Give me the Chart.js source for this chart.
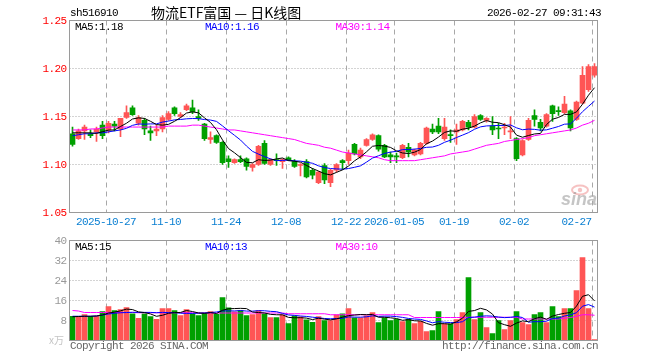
<!DOCTYPE html>
<html><head><meta charset="utf-8">
<script src="https://cdn.jsdelivr.net/npm/chart.js@4/dist/chart.umd.min.js"></script>
<style>html,body{margin:0;padding:0;background:#fff;}#wrap{position:relative;width:660px;height:360px;background:#fff;}</style>
</head><body><div id="wrap"><canvas id="c" width="660" height="360"></canvas></div>
<script>
const dates = ['2025-10-17','2025-10-20','2025-10-21','2025-10-22','2025-10-23','2025-10-24','2025-10-27','2025-10-28','2025-10-29','2025-10-30',
'2025-10-31','2025-11-03','2025-11-04','2025-11-05','2025-11-06','2025-11-07','2025-11-10','2025-11-11','2025-11-12','2025-11-13',
'2025-11-14','2025-11-17','2025-11-18','2025-11-19','2025-11-20','2025-11-21','2025-11-24','2025-11-25','2025-11-26','2025-11-27',
'2025-11-28','2025-12-01','2025-12-02','2025-12-03','2025-12-04','2025-12-05','2025-12-08','2025-12-09','2025-12-10','2025-12-11',
'2025-12-12','2025-12-15','2025-12-16','2025-12-17','2025-12-18','2025-12-19','2025-12-22','2025-12-23','2025-12-24','2025-12-25',
'2025-12-26','2025-12-29','2025-12-30','2025-12-31','2026-01-05','2026-01-06','2026-01-07','2026-01-08','2026-01-09','2026-01-12',
'2026-01-13','2026-01-14','2026-01-15','2026-01-16','2026-01-19','2026-01-20','2026-01-21','2026-01-22','2026-01-23','2026-01-26',
'2026-01-27','2026-01-28','2026-01-29','2026-01-30','2026-02-02','2026-02-03','2026-02-04','2026-02-05','2026-02-06','2026-02-09',
'2026-02-10','2026-02-11','2026-02-12','2026-02-13','2026-02-24','2026-02-25','2026-02-26','2026-02-27'];

const openP = [1.132,1.127,1.135,1.132,1.134,1.141,1.136,1.142,1.137,1.149,
1.159,1.143,1.146,1.135,1.135,1.137,1.147,1.159,1.150,1.157,
1.159,1.150,1.142,1.126,1.130,1.123,1.106,1.102,1.105,1.106,
1.097,1.100,1.122,1.100,1.105,1.103,1.107,1.103,1.099,1.103,
1.094,1.081,1.099,1.081,1.094,1.104,1.104,1.121,1.108,1.120,
1.126,1.130,1.120,1.110,1.109,1.107,1.118,1.110,1.111,1.122,
1.137,1.140,1.127,1.131,1.134,1.136,1.144,1.139,1.151,1.146,
1.140,1.138,1.138,1.134,1.127,1.110,1.126,1.151,1.144,1.140,
1.161,1.156,1.154,1.156,1.147,1.164,1.178,1.193];
const highP = [1.139,1.137,1.141,1.136,1.139,1.145,1.145,1.145,1.148,1.161,
1.161,1.151,1.148,1.140,1.141,1.151,1.155,1.160,1.154,1.163,
1.167,1.157,1.143,1.134,1.131,1.124,1.109,1.106,1.109,1.107,
1.101,1.120,1.125,1.106,1.111,1.106,1.108,1.105,1.101,1.105,
1.096,1.093,1.101,1.095,1.101,1.105,1.115,1.122,1.117,1.127,
1.132,1.131,1.121,1.113,1.112,1.121,1.122,1.116,1.123,1.139,
1.142,1.148,1.148,1.136,1.142,1.146,1.146,1.152,1.152,1.149,
1.150,1.143,1.143,1.150,1.128,1.126,1.148,1.157,1.147,1.153,
1.162,1.160,1.171,1.157,1.166,1.202,1.204,1.205];
const lowP = [1.119,1.126,1.126,1.128,1.124,1.127,1.133,1.135,1.129,1.148,
1.151,1.141,1.131,1.125,1.130,1.134,1.146,1.151,1.149,1.156,
1.153,1.146,1.125,1.122,1.122,1.100,1.097,1.101,1.102,1.094,
1.093,1.099,1.100,1.099,1.099,1.096,1.104,1.097,1.088,1.086,
1.085,1.080,1.080,1.077,1.092,1.095,1.100,1.110,1.106,1.119,
1.125,1.114,1.107,1.102,1.102,1.106,1.108,1.109,1.110,1.121,
1.132,1.132,1.125,1.123,1.121,1.135,1.136,1.138,1.146,1.144,
1.131,1.127,1.131,1.127,1.104,1.109,1.125,1.140,1.135,1.139,
1.145,1.151,1.153,1.135,1.146,1.163,1.176,1.191];
const closeP = [1.121,1.135,1.139,1.130,1.137,1.130,1.143,1.140,1.148,1.154,
1.152,1.149,1.137,1.133,1.137,1.149,1.153,1.153,1.152,1.161,
1.155,1.148,1.127,1.128,1.123,1.102,1.103,1.105,1.103,1.098,
1.100,1.119,1.101,1.105,1.104,1.105,1.105,1.098,1.100,1.087,
1.089,1.092,1.084,1.094,1.100,1.102,1.112,1.111,1.115,1.126,
1.131,1.116,1.108,1.108,1.108,1.120,1.113,1.115,1.122,1.138,
1.134,1.134,1.139,1.130,1.136,1.145,1.139,1.150,1.147,1.148,
1.136,1.137,1.139,1.135,1.106,1.125,1.146,1.147,1.138,1.152,
1.153,1.155,1.163,1.138,1.165,1.193,1.202,1.202];
const volume = [9.7,9.6,10.4,9.7,9.7,11.6,13.6,12,12.4,13.2,
10.7,8.9,10.7,9.6,8.5,12.8,12.8,12,10,12.4,
10.7,10,11.1,11.6,10.5,17.2,13.1,11.5,12,10,
10.4,12,10.7,9.2,9.2,10.3,6.8,9.9,9.5,8.3,
7.3,9.6,8,8,10.3,10.7,12.8,9.1,9.1,9.9,
11.2,7.2,9.1,8,8.5,7.6,8.5,6.8,7.7,3.6,
4,11.6,6.7,6.7,8.4,11.2,25.2,8.4,11.2,5.2,
2.8,8,4.4,8,11.6,7.2,6.4,10.4,11.2,7.2,
13.6,9.6,12.8,12.8,20,33.2,12.8,0.4];

const ma5 = [1.133,1.133,1.133,1.133,1.1324,1.1342,1.1358,1.136,1.1396,1.143,
1.1474,1.1486,1.148,1.145,1.1416,1.141,1.1418,1.145,1.1488,1.1536,
1.1548,1.1538,1.1486,1.1438,1.1362,1.1256,1.1166,1.1122,1.1072,1.1022,
1.1018,1.105,1.1042,1.1046,1.1058,1.1068,1.104,1.1034,1.1024,1.099,
1.0958,1.0932,1.0904,1.0892,1.0918,1.0944,1.0984,1.1038,1.108,1.1132,
1.119,1.1198,1.1192,1.1178,1.1142,1.112,1.1114,1.1128,1.1156,1.1216,
1.1244,1.1286,1.1334,1.135,1.1346,1.1368,1.1378,1.14,1.1434,1.1458,
1.144,1.1436,1.1414,1.139,1.1306,1.1284,1.1302,1.1318,1.1324,1.1416,
1.1472,1.149,1.1522,1.1522,1.1548,1.1628,1.1722,1.18];
const ma10 = [1.130,1.131,1.132,1.132,1.133,1.133,1.134,1.135,1.136,1.1377,
1.1408,1.1422,1.142,1.1423,1.1423,1.1442,1.1452,1.1465,1.1469,1.1476,
1.1479,1.1478,1.1468,1.1463,1.1449,1.1402,1.1352,1.1304,1.1255,1.1192,
1.1137,1.1108,1.1082,1.1059,1.104,1.1043,1.1045,1.1038,1.1035,1.1024,
1.1013,1.0986,1.0969,1.0958,1.0954,1.0951,1.0958,1.0971,1.0986,1.1025,
1.1067,1.1091,1.1115,1.1129,1.1137,1.1155,1.1156,1.116,1.1167,1.1179,
1.1182,1.12,1.1231,1.1253,1.1281,1.1306,1.1332,1.1367,1.1392,1.1402,
1.1404,1.1407,1.1407,1.1412,1.1382,1.1362,1.1369,1.1366,1.1357,1.1361,
1.1378,1.1396,1.142,1.1423,1.1482,1.155,1.1606,1.1661];
const ma30 = [1.136,1.136,1.136,1.137,1.137,1.138,1.139,1.139,1.139,1.139,
1.139,1.139,1.139,1.139,1.139,1.139,1.140,1.140,1.140,1.140,
1.141,1.141,1.140,1.139,1.138,1.137,1.136,1.136,1.135,1.134,
1.133,1.132,1.131,1.130,1.129,1.128,1.127,1.126,1.124,1.122,
1.121,1.120,1.118,1.117,1.115,1.113,1.112,1.111,1.110,1.109,
1.108,1.107,1.105,1.104,1.104,1.104,1.104,1.104,1.105,1.106,
1.107,1.108,1.109,1.111,1.112,1.113,1.114,1.116,1.118,1.120,
1.121,1.122,1.124,1.125,1.126,1.127,1.128,1.130,1.131,1.132,
1.133,1.134,1.135,1.136,1.138,1.141,1.143,1.146];
const volMa5 = [9.5,9.6,9.7,9.7,9.82,10.2,11.0,11.32,11.86,12.56,
12.38,11.44,11.18,10.62,9.68,10.1,10.88,11.14,11.22,12.0,
11.58,11.02,10.84,11.16,10.78,12.08,12.7,12.78,12.86,12.76,
11.4,11.18,11.02,10.46,10.3,10.28,9.24,9.08,9.14,8.96,
8.36,8.92,8.54,8.24,8.64,9.32,9.96,10.18,10.4,10.32,
10.42,9.3,9.3,9.08,8.8,8.08,8.34,7.88,7.82,6.84,
6.12,6.74,6.72,6.52,7.48,8.92,11.64,11.98,12.88,12.24,
10.56,7.12,6.32,5.68,6.96,7.84,7.52,8.72,9.36,8.48,
9.76,10.4,10.88,11.2,13.76,17.68,18.32,15.84];
const volMa10 = [9.7,9.7,9.7,9.7,9.8,10.2,10.6,10.9,11.1,11.19,
11.29,11.22,11.25,11.24,11.12,11.24,11.16,11.16,10.92,10.84,
10.84,10.95,10.99,11.19,11.39,11.83,11.86,11.81,12.01,11.77,
11.74,11.94,11.9,11.66,11.53,10.84,10.21,10.05,9.8,9.63,
9.32,9.08,8.81,8.69,8.8,8.84,9.44,9.36,9.32,9.48,
9.87,9.63,9.74,9.74,9.56,9.25,8.82,8.59,8.45,7.82,
7.1,7.54,7.3,7.17,7.16,7.52,9.19,9.35,9.7,9.86,
9.74,9.38,9.15,9.28,9.6,9.2,7.32,7.52,7.52,7.72,
8.8,8.96,9.8,10.28,11.12,13.72,14.36,13.36];
const volMa30 = [12.0,11.8,11.2,11.2,11.2,11.2,11.2,11.2,11.2,11.2,
11.2,11.1,11.1,11.1,11.1,11.1,11.1,11.1,11.1,11.1,
11.1,11.0,11.0,11.0,11.0,11.0,11.0,11.0,11.0,11.0,
11.0,11.0,11.0,11.0,11.0,11.0,10.7,10.7,10.7,10.7,
10.7,10.7,10.7,10.3,10.3,10.3,10.3,10.3,10.3,10.3,
10.3,10.3,10.3,10.3,10.3,10.3,10.3,9.2,9.2,9.2,
9.2,9.2,9.2,9.2,9.2,9.2,9.3,9.3,9.3,9.3,
9.3,9.3,9.3,9.3,9.3,8.6,8.6,8.6,8.6,8.6,
8.6,8.6,8.9,9.2,9.7,10.3,10.3,10.1];

const priceTicks = [1.25, 1.20, 1.15, 1.10, 1.05];
const volTicks = [40, 32, 24, 16, 8];
const tickDates = ['2025-10-27','2025-11-10','2025-11-24','2025-12-08','2025-12-22','2026-01-05','2026-01-19','2026-02-02','2026-02-27'];
const tickLabels = ['2025-10-27','11-10','11-24','12-08','12-22','2026-01-05','01-19','02-02','02-27'];
const priceLegend = ['MA5:1.18','MA10:1.16','MA30:1.14'];
const volLegend = ['MA5:15','MA10:13','MA30:10'];
const headerCode = 'sh516910';
const headerTitle = '物流ETF富国 — 日K线图';
const headerTime = '2026-02-27 09:31:43';

const UP = '#ff5555', DN = '#00a000';
const barColors = dates.map((d, i) => closeP[i] >= openP[i] ? UP : DN);
const MONO = "11px 'Liberation Mono'";

const deco = {
  id: 'deco',
  beforeDatasetsDraw(chart) {
    const c = chart.ctx, xs = chart.scales.x, ys = chart.scales.y, yv = chart.scales.yv;
    const L = chart.chartArea.left, R = chart.chartArea.right;
    const pTop = ys.getPixelForValue(priceTicks[0]), pBot = ys.getPixelForValue(priceTicks[priceTicks.length - 1]);
    const vTop = yv.getPixelForValue(volTicks[0]), vBot = yv.getPixelForValue(0);
    c.save();
    // watermark
    c.strokeStyle = 'rgba(235,120,120,0.45)'; c.lineWidth = 2;
    c.beginPath(); c.ellipse(580, 190, 8, 4.5, 0, 0, Math.PI * 2); c.stroke();
    c.fillStyle = 'rgba(235,120,120,0.45)';
    c.beginPath(); c.arc(580, 190, 2.2, 0, Math.PI * 2); c.fill();
    c.fillStyle = 'rgba(150,150,150,0.55)';
    c.font = "italic bold 18px 'Liberation Sans'"; c.textAlign = 'right'; c.textBaseline = 'alphabetic';
    c.fillText('sina', 597, 205);
    // horizontal dotted grid
    c.strokeStyle = '#a8a8a8'; c.lineWidth = 1; c.setLineDash([1, 2]);
    priceTicks.slice(1, -1).forEach(v => { const y = ys.getPixelForValue(v); c.beginPath(); c.moveTo(L, y); c.lineTo(R, y); c.stroke(); });
    volTicks.slice(1).forEach(v => { const y = yv.getPixelForValue(v); c.beginPath(); c.moveTo(L, y); c.lineTo(R, y); c.stroke(); });
    // vertical dashed grid
    c.setLineDash([5, 4]);
    tickDates.forEach(d => {
      const x = xs.getPixelForValue(dates.indexOf(d)) - 2;
      c.beginPath(); c.moveTo(x, pTop); c.lineTo(x, pBot); c.stroke();
      c.beginPath(); c.moveTo(x, vTop); c.lineTo(x, vBot); c.stroke();
    });
    c.restore();
  },
  afterDatasetsDraw(chart) {
    const c = chart.ctx, xs = chart.scales.x, ys = chart.scales.y, yv = chart.scales.yv;
    const L = chart.chartArea.left, R = chart.chartArea.right;
    const pTop = ys.getPixelForValue(priceTicks[0]), pBot = ys.getPixelForValue(priceTicks[priceTicks.length - 1]);
    const vTop = yv.getPixelForValue(volTicks[0]), vBot = yv.getPixelForValue(0);
    c.save();
    c.setLineDash([]); c.strokeStyle = '#9a9a9a'; c.lineWidth = 1;
    c.strokeRect(L, pTop, R - L, pBot - pTop);
    c.strokeRect(L, vTop, R - L, vBot - vTop);
    c.font = MONO; c.letterSpacing = '-0.6px';
    c.textBaseline = 'middle';
    // y labels
    c.textAlign = 'right'; c.fillStyle = '#ff0000';
    priceTicks.forEach(v => c.fillText(v.toFixed(2), 66.5, ys.getPixelForValue(v) + 0.5));
    c.fillStyle = '#999999';
    volTicks.forEach(v => c.fillText(String(v), 66.5, yv.getPixelForValue(v) + 0.5));
    // date labels
    c.fillStyle = '#0a7fd2';
    tickDates.forEach((d, k) => {
      const x = xs.getPixelForValue(dates.indexOf(d));
      if (k === tickDates.length - 1) { c.textAlign = 'right'; c.fillText(tickLabels[k], x - 3, 222); }
      else { c.textAlign = 'center'; c.fillText(tickLabels[k], x - 2.5, 222); }
    });
    // legends
    c.textAlign = 'left';
    const legCols = ['#000000', '#0000ff', '#ff00ff'];
    const legX = [75, 205, 335.5];
    priceLegend.forEach((t, k) => { c.fillStyle = legCols[k]; c.fillText(t, legX[k], 27); });
    volLegend.forEach((t, k) => { c.fillStyle = legCols[k]; c.fillText(t, legX[k], 247); });
    // header
    c.fillStyle = '#000';
    c.fillText(headerCode, 70, 13);
    c.textAlign = 'right'; c.fillText(headerTime, 601, 13);
    c.letterSpacing = '0px';
    c.textAlign = 'left'; c.font = "14px 'Noto Sans CJK SC'";
    c.fillText(headerTitle, 151, 13);
    // footer
    c.font = MONO; c.letterSpacing = '-0.6px'; c.fillStyle = '#666666';
    c.textAlign = 'left'; c.fillText('Copyright 2026 SINA.COM', 70, 346);
    c.textAlign = 'right'; c.fillText('http://finance.sina.com.cn', 598, 346);
    c.letterSpacing = '0px';
    c.font = "10px 'Noto Sans CJK SC'"; c.fillStyle = '#c4c4c4';
    c.fillText('x万', 64, 340);
    c.restore();
  }
};

const lineDs = (data, color, axis) => ({ type: 'line', data, yAxisID: axis, borderColor: color, borderWidth: 1, pointRadius: 0, tension: 0, fill: false, order: 0 });

new Chart(document.getElementById('c'), {
  type: 'bar',
  data: {
    labels: dates,
    datasets: [
      lineDs(ma5, '#000000', 'y'),
      lineDs(ma10, '#0000ff', 'y'),
      lineDs(ma30, '#ff00ff', 'y'),
      lineDs(volMa5, '#000000', 'yv'),
      lineDs(volMa10, '#0000ff', 'yv'),
      lineDs(volMa30, '#ff00ff', 'yv'),
      { type: 'bar', data: dates.map((d, i) => [openP[i], closeP[i]]), yAxisID: 'y', backgroundColor: barColors, barThickness: 5, grouped: false, minBarLength: 1, order: 5 },
      { type: 'bar', data: dates.map((d, i) => [lowP[i], highP[i]]), yAxisID: 'y', backgroundColor: barColors, barThickness: 1, grouped: false, order: 6 },
      { type: 'bar', data: volume, yAxisID: 'yv', backgroundColor: barColors, barThickness: 5, grouped: false, order: 5 }
    ]
  },
  options: {
    responsive: false, animation: false, events: [],
    layout: { padding: { left: 69.5, right: 62.5, top: 20.5, bottom: 19.5 } },
    plugins: { legend: { display: false }, tooltip: { enabled: false } },
    scales: {
      x: { display: false, offset: true, grid: { display: false } },
      y: { display: false, min: 1.05 - 128 * 0.2 / 192, max: 1.25 },
      yv: { display: false, min: 0, max: 128 }
    }
  },
  plugins: [deco]
});
</script></body></html>
